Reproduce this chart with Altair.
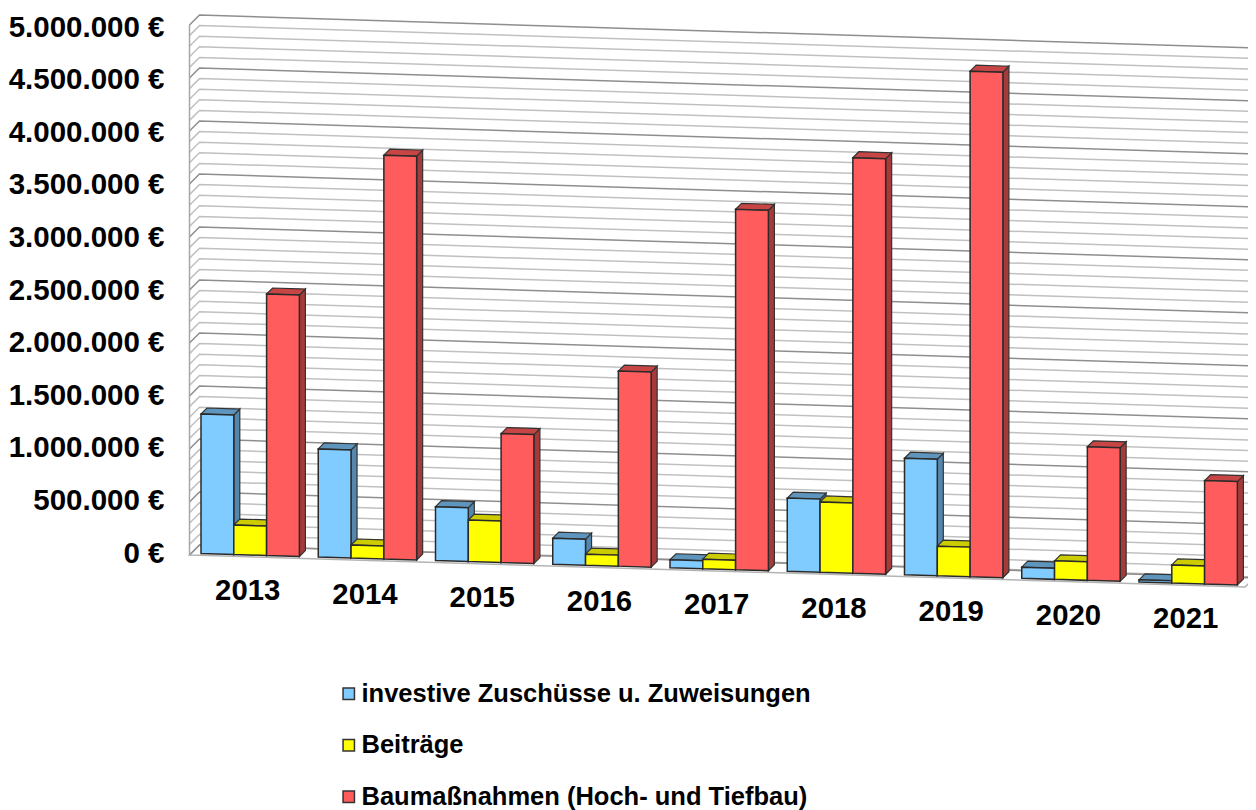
import altair as alt
import pandas as pd

years = ["2013", "2014", "2015", "2016", "2017", "2018", "2019", "2020", "2021"]
series = ["investive Zuschüsse u. Zuweisungen", "Beiträge", "Baumaßnahmen (Hoch- und Tiefbau)"]
zuschuesse = [1316000, 1020000, 509000, 245000, 75000, 690000, 1100000, 106000, 20000]
beitraege = [278000, 123000, 392000, 104000, 90000, 663000, 280000, 175000, 170000]
baumassnahmen = [2467000, 3810000, 1217000, 1840000, 3400000, 3920000, 4770000, 1260000, 975000]
ticks = [0, 500000, 1000000, 1500000, 2000000, 2500000, 3000000, 3500000, 4000000, 4500000, 5000000]
grid_values = list(range(0, 5000001, 100000))

front_colors = ["#80CBFF", "#FFFF00", "#FF5D5D"]
top_colors = ["#5F94BC", "#CCCC00", "#C84545"]
side_colors = ["#5587AD", "#B0B000", "#A63A3A"]

H = 802
WIDTH = 1076
K = 106 / 1e6
Y0 = 553.5
def eur(px):
    return (Y0 - px) / K

FONT = "Liberation Sans"
SKEW = 0.0303
LEFT, STEP, BW, D = 201.0, 117.25, 32.8, 6.0

def base(x):
    return Y0 + SKEW * (x - LEFT)

tops, fronts, labels = [], [], []
all_vals = [zuschuesse, beitraege, baumassnahmen]
for i, yr in enumerate(years):
    x_start = LEFT + i * STEP
    labels.append({"x": x_start + 1.5 * BW - 2.5, "y": eur(base(x_start + 1.5 * BW) + 36), "t": yr})
    for s in range(3):
        v = all_vals[s][i]
        x0 = x_start + s * BW
        x1 = x0 + BW
        h = v * K
        b0, b1 = base(x0), base(x1)
        t0, t1 = b0 - h, b1 - h
        fid = f"{yr}-{s}"
        fronts.append({"x": x0, "y": eur(t0), "y2": eur(b0), "face": fid, "series": series[s]})
        fronts.append({"x": x1, "y": eur(t1), "y2": eur(b1), "face": fid, "series": series[s]})
        tops.append({"x": x1, "y": eur(t1), "y2": eur(b1), "face": fid + "s", "c": side_colors[s]})
        tops.append({"x": x1 + D, "y": eur(t1 - D), "y2": eur(b1 - D), "face": fid + "s", "c": side_colors[s]})
        m = (t1 - t0) / BW
        for x, up, lo in [
            (x0, t0, t0),
            (x0 + D, t0 - D, t0 + m * D),
            (x1, t0 - D + m * BW - m * D, t1),
            (x1 + D, t1 - D, t1 - D),
        ]:
            tops.append({"x": x, "y": eur(up), "y2": eur(lo), "face": fid + "t", "c": top_colors[s]})

XS = alt.Scale(domain=[172, 172 + WIDTH], range=[0, WIDTH], nice=False, zero=False)
YS = alt.Scale(domain=[eur(8 + H), eur(8)], nice=False, zero=False)

X = alt.X("x:Q", scale=XS, axis=None)
Y = alt.Y("y:Q", scale=YS, axis=None, stack=None)
Y2 = alt.Y2("y2:Q")

grid = []
for v in grid_values:
    h = v * 530 / 5e6
    kind = "major" if v % 500000 == 0 else "minor"
    for x, y in [(189.5, 555 - h), (199.5, 545 - h), (1255.5, 578 - h)]:
        grid.append({"x": x, "y": eur(y), "g": str(v), "kind": kind})

grid_layer = alt.Chart(pd.DataFrame(grid)).mark_line(strokeWidth=1.5).encode(
    x=X, y=Y, detail="g:N",
    color=alt.Color("kind:N", scale=alt.Scale(domain=["major", "minor"], range=["#8E8E8E", "#C0C0C0"]), legend=None),
)
edge = alt.Chart(pd.DataFrame([{"x": 189.5, "y": eur(25), "y2": eur(555)}])).mark_rule(
    color="#A8A8A8", strokeWidth=1.5
).encode(x=X, y=Y, y2=Y2)

floor_rows = [
    {"x": 189.5, "y": eur(555), "y2": eur(555)},
    {"x": 199.5, "y": eur(545), "y2": eur(555.3)},
    {"x": 1245.0, "y": eur(576.7), "y2": eur(587)},
    {"x": 1255.5, "y": eur(577), "y2": eur(577)},
]
floor = alt.Chart(pd.DataFrame(floor_rows)).mark_area(
    color="#FFFFFF", stroke="#B4B4B4", strokeWidth=1.5
).encode(x=X, y=Y, y2=Y2)

top_layer = alt.Chart(pd.DataFrame(tops)).mark_area(
    stroke="#333333", strokeWidth=1.2
).encode(x=X, y=Y, y2=Y2, detail="face:N", fill=alt.Fill("c:N", scale=None))

front_layer = alt.Chart(pd.DataFrame(fronts)).mark_area(
    stroke="#2A2A2A", strokeWidth=1.5, opacity=1
).encode(
    x=X, y=Y, y2=Y2, detail="face:N",
    fill=alt.Fill(
        "series:N",
        scale=alt.Scale(domain=series, range=front_colors),
        sort=series,
        legend=alt.Legend(
            title=None, orient="none", legendX=164, legendY=673,
            symbolType="square", symbolSize=130, symbolStrokeColor="#444444", symbolStrokeWidth=1.5,
            labelFont=FONT, labelFontSize=25.5, labelFontWeight="bold", labelColor="#000000",
            labelOffset=0, rowPadding=24.5, labelLimit=600,
        ),
    ),
)

year_layer = alt.Chart(pd.DataFrame(labels)).mark_text(
    font=FONT, fontSize=29.3, fontWeight="bold", color="#000000", align="center", baseline="middle"
).encode(x=X, y=Y, text="t:N")

AY = alt.Scale(domain=[-(H - 545) / 526 * 5e6, 5e6 + 19 / 526 * 5e6], nice=False, zero=False)
axis_layer = alt.Chart(pd.DataFrame({"v": ticks})).mark_point(opacity=0).encode(
    y=alt.Y(
        "v:Q", scale=AY, title=None,
        axis=alt.Axis(
            values=ticks, domain=False, ticks=False, grid=False, labelPadding=8,
            labelFont=FONT, labelFontSize=29.5, labelFontWeight="bold", labelColor="#000000",
            labelExpr="replace(format(datum.value, ','), regexp(',', 'g'), '.') + ' €'",
            labelOverlap=False, labelBound=False, labelFlush=False, orient="left",
        ),
    )
)

chart = alt.layer(floor, grid_layer, edge, top_layer, front_layer, year_layer, axis_layer).resolve_scale(
    y="independent", color="independent"
).properties(
    width=WIDTH, height=H,
    autosize=alt.AutoSizeParams(type="none"),
    padding={"left": 164, "top": 0, "right": 0, "bottom": 0},
    background="#FFFFFF",
).configure_view(stroke=None)

chart.save("out.html", embed_options={"renderer": "svg", "actions": False})
